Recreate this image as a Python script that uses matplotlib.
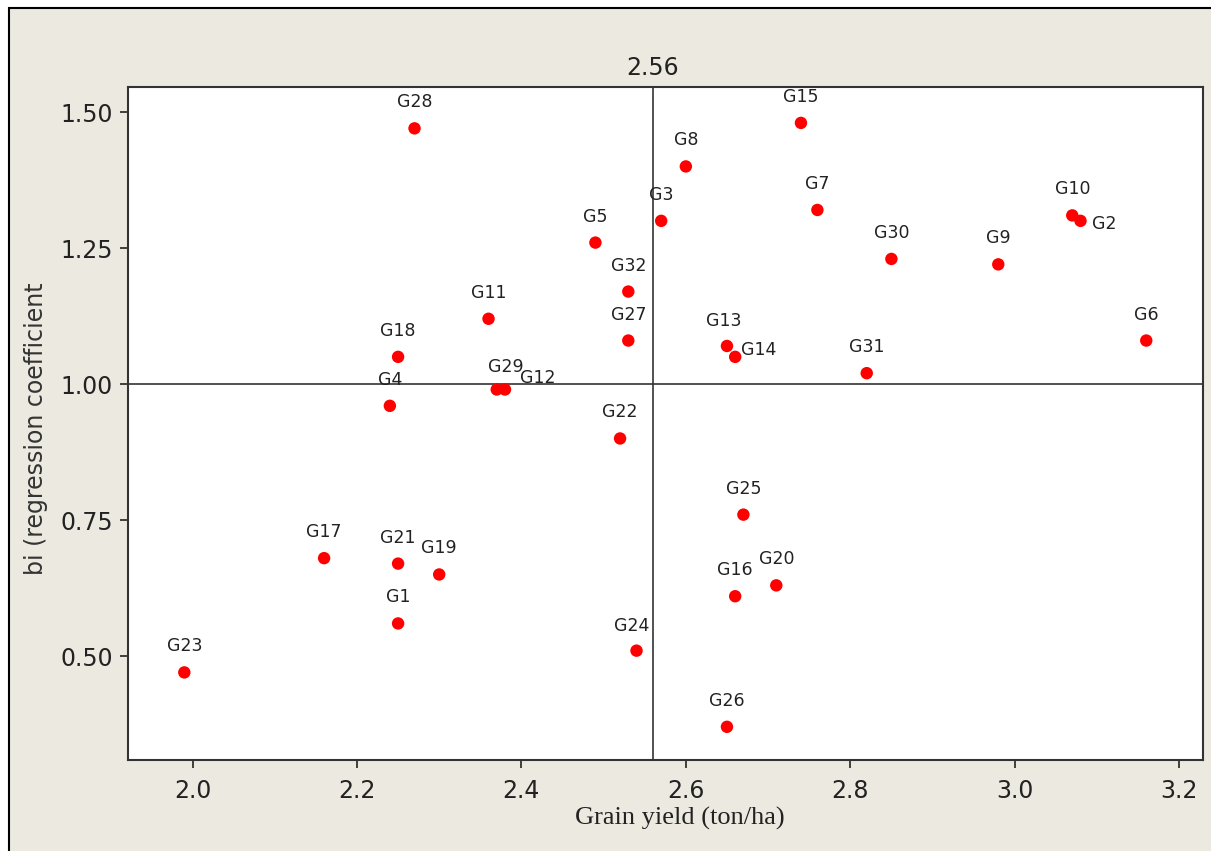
import matplotlib
matplotlib.use('Agg')
import matplotlib.pyplot as plt
from matplotlib.patches import Rectangle

# genotypes: grain yield (ton/ha) and regression coefficient bi
genotypes = ['G1', 'G2', 'G3', 'G4', 'G5', 'G6', 'G7', 'G8', 'G9', 'G10',
             'G11', 'G12', 'G13', 'G14', 'G15', 'G16', 'G17', 'G18', 'G19', 'G20',
             'G21', 'G22', 'G23', 'G24', 'G25', 'G26', 'G27', 'G28', 'G29', 'G30',
             'G31', 'G32']
grain_yield = [2.25, 3.08, 2.57, 2.24, 2.49, 3.16, 2.76, 2.60, 2.98, 3.07,
               2.36, 2.38, 2.65, 2.66, 2.74, 2.66, 2.16, 2.25, 2.30, 2.71,
               2.25, 2.52, 1.99, 2.54, 2.67, 2.65, 2.53, 2.27, 2.37, 2.85,
               2.82, 2.53]
bi = [0.56, 1.30, 1.30, 0.96, 1.26, 1.08, 1.32, 1.40, 1.22, 1.31,
      1.12, 0.99, 1.07, 1.05, 1.48, 0.61, 0.68, 1.05, 0.65, 0.63,
      0.67, 0.90, 0.47, 0.51, 0.76, 0.37, 1.08, 1.47, 0.99, 1.23,
      1.02, 1.17]
mean_yield = 2.56
bi_ref = 1.00

x_ticks = [2.0, 2.2, 2.4, 2.6, 2.8, 3.0, 3.2]
y_ticks = [0.50, 0.75, 1.00, 1.25, 1.50]

# label offsets in pixels (default: centred above the point)
label_offsets = {'G2': (24, -3), 'G14': (24, 7), 'G12': (33, 11),
                 'G29': (9, 22), 'G24': (-5, 25), 'G13': (-3, 25)}

fig = plt.figure(figsize=(12.11, 8.51), dpi=100, facecolor='white')
fig.patches.append(Rectangle((9 / 1211, -0.02), 1.02, (851 - 8) / 851 + 0.02,
                             transform=fig.transFigure, facecolor='#ECE9E0',
                             edgecolor='black', linewidth=1.5, zorder=-10))

ax = fig.add_axes([128 / 1211, 1 - 760 / 851, (1203 - 128) / 1211, (760 - 87) / 851])
ax.set_facecolor('white')

ax.axvline(mean_yield, color='#333333', lw=1.2, zorder=1)
ax.axhline(bi_ref, color='#333333', lw=1.2, zorder=1)

ax.scatter(grain_yield, bi, s=80, color='#FF0000', edgecolors='none', zorder=3)

for name, gx, gy in zip(genotypes, grain_yield, bi):
    dx, dy = label_offsets.get(name, (0, 26))
    ax.annotate(name, (gx, gy), xytext=(dx, dy), textcoords='offset pixels',
                ha='center', va='center', fontsize=12.5, color='#222222',
                family='DejaVu Sans', zorder=4)

ax.set_xlim(1.9215, 3.229)
ax.set_ylim(0.309, 1.546)
ax.set_xticks(x_ticks)
ax.set_xticklabels([f'{v:.1f}' for v in x_ticks], fontsize=17)
ax.set_yticks(y_ticks)
ax.set_yticklabels([f'{v:.2f}' for v in y_ticks], fontsize=17)
ax.tick_params(direction='out', length=6, width=1.2, colors='#222222', pad=5)
ax.tick_params(axis='x', pad=8)

for side in ['left', 'right', 'top', 'bottom']:
    ax.spines[side].set_color('#333333')
    ax.spines[side].set_linewidth(1.5)

ax.text(mean_yield, 1.01, '2.56', transform=ax.get_xaxis_transform(),
        ha='center', va='bottom', fontsize=17, color='#222222')

ax.set_xlabel('Grain yield (ton/ha)', family='Liberation Serif', fontsize=19,
              color='#222222')
ax.xaxis.set_label_coords(0.513, -0.069)
ax.set_ylabel('bi (regression coefficient', family='DejaVu Sans', fontsize=17,
              color='#333333')
ax.yaxis.set_label_coords(-0.074, 0.493)

plt.savefig('out.png', dpi=100, facecolor=fig.get_facecolor())
